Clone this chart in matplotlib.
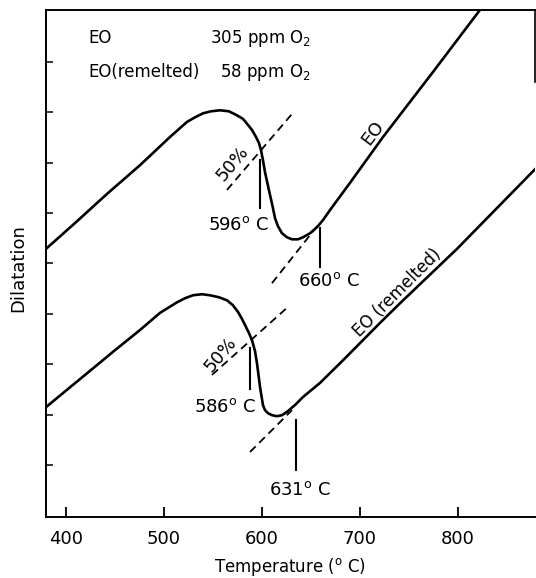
import matplotlib
matplotlib.use('Agg')
import matplotlib.pyplot as plt

# dilatometer curves (arbitrary dilatation units)
temp_eo = [379.6, 410.2, 441.8, 475.5, 490.8, 506.1, 523.5, 531.6, 539.8, 548.0, 557.1,
           566.3, 574.5, 580.6, 585.7, 589.8, 593.9, 596.9, 599.0, 601.0, 603.1, 608.2,
           611.2, 613.3, 616.3, 620.4, 625.5, 630.6, 636.7, 641.8, 649.0, 656.1, 662.2,
           669.4, 689.8, 723.5, 774.5, 822.4]
dil_eo = [5.29, 5.82, 6.38, 6.95, 7.23, 7.51, 7.81, 7.90, 7.98, 8.02, 8.04,
          8.02, 7.94, 7.87, 7.75, 7.65, 7.51, 7.39, 7.25, 7.05, 6.81, 6.36,
          6.10, 5.90, 5.74, 5.60, 5.52, 5.48, 5.48, 5.52, 5.60, 5.72, 5.86,
          6.06, 6.60, 7.51, 8.80, 10.03]

temp_rem = [379.6, 402.0, 424.5, 450.0, 475.5, 495.9, 513.3, 521.4, 529.6, 538.8, 546.9,
            556.1, 564.3, 570.4, 575.5, 579.6, 583.7, 586.7, 589.8, 592.9, 594.9, 598.0,
            601.0, 603.1, 606.1, 610.2, 615.3, 620.4, 626.5, 634.7, 641.8, 659.2, 682.7,
            720.4, 740.8, 799.0, 879.6]
dil_rem = [2.15, 2.51, 2.87, 3.28, 3.68, 4.02, 4.23, 4.31, 4.37, 4.39, 4.37,
           4.33, 4.27, 4.17, 4.04, 3.90, 3.74, 3.62, 3.48, 3.26, 3.02, 2.55,
           2.19, 2.09, 2.03, 1.99, 1.97, 1.99, 2.07, 2.21, 2.35, 2.63, 3.08,
           3.82, 4.21, 5.29, 6.89]

# construction lines (dashed) : [(T1, T2), (D1, D2)]
dash_eo_50 = [(564.3, 631.6), (6.46, 7.99)]
dash_eo_end = [(610.2, 657.1), (4.61, 5.76)]
dash_rem_50 = [(549.0, 625.5), (2.79, 4.12)]
dash_rem_end = [(587.8, 630.6), (1.26, 2.09)]

# marker ticks: temperature, D top, D bottom, label, label pos
markers = [
    (598.0, 7.05, 6.10, '596', 576.5, 5.76),
    (659.2, 5.70, 4.93, '660', 668.4, 4.65),
    (587.8, 3.32, 2.51, '586', 562.2, 2.15),
    (634.7, 1.89, 0.90, '631', 638.8, 0.50),
]

xticks = [400, 500, 600, 700, 800]
yticks = [1, 2, 3, 4, 5, 6, 7, 8, 9]

plt.rcParams['font.family'] = ['DejaVu Sans']
fig = plt.figure(figsize=(5.36, 5.78), dpi=100)
ax = fig.add_axes([46/536, 61/578, 489/536, 507/578])

ax.plot(temp_eo, dil_eo, color='black', lw=1.9, solid_joinstyle='round')
ax.plot(temp_rem, dil_rem, color='black', lw=1.9, solid_joinstyle='round')

for d in [dash_eo_50, dash_eo_end, dash_rem_50, dash_rem_end]:
    ax.plot(d[0], d[1], color='black', lw=1.3, dashes=(4.4, 2.8))

for t, d1, d2, lab, lx, ly in markers:
    ax.plot([t, t], [d1, d2], color='black', lw=1.5)
    ax.text(lx, ly, lab + '$^{\\mathregular{o}}$ C', fontsize=13, ha='center', va='center')

ax.text(570.4, 6.99, '50%', fontsize=13, rotation=50, ha='center', va='center',
        rotation_mode='anchor')
ax.text(558.2, 3.20, '50%', fontsize=13, rotation=50, ha='center', va='center',
        rotation_mode='anchor')
ax.text(713.3, 7.60, 'EO', fontsize=13, rotation=53, ha='center', va='center',
        rotation_mode='anchor')
ax.text(737.8, 4.41, 'EO (remelted)', fontsize=12, rotation=45, ha='center', va='center',
        rotation_mode='anchor')

# header
ax.text(422.4, 9.37, 'EO', fontsize=12, ha='left', va='baseline')
ax.text(422.4, 8.70, 'EO(remelted)', fontsize=12, ha='left', va='baseline')
ax.text(546.9, 9.37, '305 ppm O$_\\mathregular{2}$', fontsize=12, ha='left', va='baseline')
ax.text(557.1, 8.70, '58 ppm O$_\\mathregular{2}$', fontsize=12, ha='left', va='baseline')

ax.set_xlim(379.6, 878.6)
ax.set_ylim(-0.03, 10.03)
ax.set_xticks(xticks)
ax.set_yticks(yticks)
ax.set_yticklabels([])
ax.tick_params(axis='x', direction='in', length=7, width=1.3, labelsize=13, pad=9)
ax.tick_params(axis='y', direction='in', length=5, width=1.1)
for s in ['left', 'bottom', 'top']:
    ax.spines[s].set_linewidth(1.4)
ax.spines['right'].set_visible(False)
ax.plot([1, 1], [0.858, 1], transform=ax.transAxes, color='black', lw=1.2, clip_on=False)

ax.set_xlabel('Temperature ($^{\\mathregular{o}}$ C)', fontsize=12, labelpad=6)
fig.text(18/536, 1 - 268/578, 'Dilatation', rotation=90, fontsize=13, ha='center', va='center')

fig.savefig('out.png', dpi=100)
